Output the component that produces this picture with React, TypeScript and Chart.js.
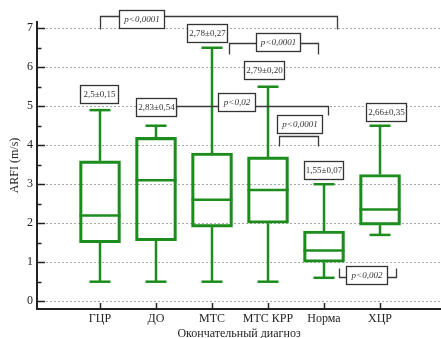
import React, { useEffect, useRef } from "react";
import { Chart, registerables } from "chart.js";

Chart.register(...registerables);

// ---- data ----
const categories = ["ГЦР", "ДО", "МТС", "МТС КРР", "Норма", "ХЦР"];
const whiskerMin = [0.5, 0.5, 0.5, 0.5, 0.6, 1.7];
const q1 = [1.5, 1.55, 1.9, 2.0, 1.0, 1.95];
const medians = [2.2, 3.1, 2.6, 2.85, 1.3, 2.35];
const q3 = [3.6, 4.2, 3.8, 3.7, 1.8, 3.25];
const whiskerMax = [4.9, 4.5, 6.5, 5.5, 3.0, 4.5];
const meanLabels = ["2,5±0,15", "2,83±0,54", "2,78±0,27", "2,79±0,20", "1,55±0,07", "2,66±0,35"];
const yTicks = [0, 1, 2, 3, 4, 5, 6, 7];
const pTexts = ["p<0,0001", "p<0,0001", "p<0,02", "p<0,0001", "p<0,002"];

// ---- annotation layout (data coordinates: x = category position, y = value) ----
const meanLabelPos = [
  [0.98, 5.32],
  [2.0, 4.99],
  [2.91, 6.89],
  [3.93, 5.94],
  [4.99, 3.36],
  [6.1, 4.85],
];
const meanLabelW = [38, 40, 40, 40, 39, 40];
const pLabelPos = [
  [1.74, 7.23],
  [4.175, 6.65],
  [3.44, 5.1],
  [4.56, 4.54],
  [5.75, 0.68],
];
const pLabelW = [45, 44, 37, 45, 41];
const brackets = [
  [[1, 6.98], [1, 7.31], [5.23, 7.31], [5.23, 6.98]],
  [[3.3, 6.34], [3.3, 6.62], [4.89, 6.62], [4.89, 6.34]],
  [[2.36, 4.77], [2.36, 5.0], [5.08, 5.0], [5.08, 4.77]],
  [[4.2, 3.98], [4.2, 4.24], [4.89, 4.24], [4.89, 3.98]],
  [[5.385, 0.61], [5.27, 0.61], [5.27, 0.85]],
  [[6.115, 0.61], [6.29, 0.61], [6.29, 0.85]],
];

const GREEN = "#1c8c1c";
const FONT = "'Liberation Serif', 'Times New Roman', serif";
const BOX_W = 41;
const CAP_W = 21;

const boxPlugin = {
  id: "boxParts",
  afterDatasetsDraw(chart: any) {
    const { ctx, scales } = chart;
    const xs = scales.x;
    const ys = scales.y;
    ctx.save();
    ctx.strokeStyle = GREEN;
    ctx.lineWidth = 2.5;
    ctx.lineCap = "butt";
    const seg = (x1: number, y1: number, x2: number, y2: number) => {
      ctx.beginPath();
      ctx.moveTo(x1, y1);
      ctx.lineTo(x2, y2);
      ctx.stroke();
    };
    categories.forEach((_, i) => {
      const cx = xs.getPixelForValue(i + 1);
      const yMax = ys.getPixelForValue(whiskerMax[i]);
      const yMin = ys.getPixelForValue(whiskerMin[i]);
      const yQ3 = ys.getPixelForValue(q3[i]);
      const yQ1 = ys.getPixelForValue(q1[i]);
      const yMed = ys.getPixelForValue(medians[i]);
      seg(cx, yQ3, cx, yMax);
      seg(cx, yQ1, cx, yMin);
      seg(cx - CAP_W / 2, yMax, cx + CAP_W / 2, yMax);
      seg(cx - CAP_W / 2, yMin, cx + CAP_W / 2, yMin);
      seg(cx - BOX_W / 2, yMed, cx + BOX_W / 2, yMed);
    });
    ctx.restore();
  },
};

const tickPlugin = {
  id: "innerTicks",
  afterDraw(chart: any) {
    const { ctx, scales, chartArea } = chart;
    const xs = scales.x;
    const ys = scales.y;
    ctx.save();
    ctx.strokeStyle = "#222";
    ctx.lineWidth = 1.5;
    const left = chartArea.left;
    for (let v = 0; v <= 7; v += 0.5) {
      const py = Math.round(ys.getPixelForValue(v)) + 0.5;
      const len = Number.isInteger(v) ? 8 : 4.5;
      ctx.beginPath();
      ctx.moveTo(left, py);
      ctx.lineTo(left + len, py);
      ctx.stroke();
    }
    const bottom = chartArea.bottom;
    categories.forEach((_, i) => {
      const px = Math.round(xs.getPixelForValue(i + 1)) + 0.5;
      ctx.beginPath();
      ctx.moveTo(px, bottom);
      ctx.lineTo(px, bottom - 6);
      ctx.stroke();
    });
    ctx.restore();
  },
};

const annotationPlugin = {
  id: "annotations",
  afterDraw(chart: any) {
    const { ctx, scales } = chart;
    const xs = scales.x;
    const ys = scales.y;
    ctx.save();
    ctx.strokeStyle = "#3a3a3a";
    ctx.lineWidth = 1.3;
    brackets.forEach((pts) => {
      ctx.beginPath();
      pts.forEach((p, k) => {
        const px = Math.round(xs.getPixelForValue(p[0])) + 0.5;
        const py = Math.round(ys.getPixelForValue(p[1])) + 0.5;
        if (k === 0) ctx.moveTo(px, py);
        else ctx.lineTo(px, py);
      });
      ctx.stroke();
    });
    const drawLabel = (text: string, pos: number[], w: number, italic: boolean) => {
      const cx = xs.getPixelForValue(pos[0]);
      const cy = ys.getPixelForValue(pos[1]);
      const h = 18;
      const x0 = Math.round(cx - w / 2) + 0.5;
      const y0 = Math.round(cy - h / 2) + 0.5;
      ctx.fillStyle = "#ffffff";
      ctx.fillRect(x0, y0, w, h);
      ctx.strokeStyle = "#333";
      ctx.lineWidth = 1.3;
      ctx.strokeRect(x0, y0, w, h);
      ctx.fillStyle = "#333";
      ctx.font = (italic ? "italic " : "") + "9px " + FONT;
      ctx.textAlign = "center";
      ctx.textBaseline = "middle";
      ctx.fillText(text, x0 + w / 2, y0 + h / 2 + 0.5);
    };
    meanLabels.forEach((t, i) => drawLabel(t, meanLabelPos[i], meanLabelW[i], false));
    pTexts.forEach((t, i) => drawLabel(t, pLabelPos[i], pLabelW[i], true));
    ctx.restore();
  },
};

export default function App() {
  const ref = useRef<HTMLCanvasElement | null>(null);
  useEffect(() => {
    if (!ref.current) return;
    const chart = new Chart(ref.current, {
      type: "bar",
      data: {
        datasets: [
          {
            data: categories.map((_, i) => ({ x: i + 1, y: [q1[i], q3[i]] })) as any,
            backgroundColor: "rgba(255,255,255,0)",
            borderColor: GREEN,
            borderWidth: 2.5,
            borderSkipped: false,
            barThickness: BOX_W,
          },
        ],
      },
      options: {
        animation: false,
        responsive: false,
        devicePixelRatio: 1,
        layout: { padding: { top: 22, right: 0, left: 0, bottom: 0 } },
        plugins: { legend: { display: false }, tooltip: { enabled: false } },
        scales: {
          x: {
            type: "linear",
            offset: false,
            min: -0.125,
            max: 7.089,
            afterFit: (s: any) => {
              s.height = 29;
            },
            afterBuildTicks: (s: any) => {
              s.ticks = categories.map((_, i) => ({ value: i + 1 }));
            },
            grid: { display: false, drawTicks: false, offset: false },
            border: { display: true, color: "#222", width: 2 },
            ticks: {
              autoSkip: false,
              maxRotation: 0,
              padding: 3,
              color: "#222",
              font: { family: FONT, size: 12 },
              callback: (v: any) => categories[Math.round(Number(v)) - 1] ?? "",
            },
            title: {
              display: true,
              text: "Окончательный диагноз",
              color: "#222",
              font: { family: FONT, size: 12, lineHeight: 1 },
              padding: { top: 0, bottom: -2 },
            },
          },
          y: {
            type: "linear",
            min: -0.2,
            max: 7.16,
            afterFit: (s: any) => {
              s.width = 37;
            },
            afterBuildTicks: (s: any) => {
              s.ticks = yTicks.map((v) => ({ value: v }));
            },
            grid: { display: true, drawTicks: false, color: "#a8a8a8", lineWidth: 1 },
            border: { display: true, color: "#222", width: 2, dash: [2, 2] },
            ticks: {
              padding: 4,
              color: "#222",
              font: { family: FONT, size: 12 },
            },
            title: {
              display: true,
              text: "ARFI (m/s)",
              color: "#222",
              font: { family: FONT, size: 12, lineHeight: 1 },
              padding: { top: 9, bottom: 0 },
            },
          },
        },
      },
      plugins: [boxPlugin, tickPlugin, annotationPlugin],
    });
    return () => chart.destroy();
  }, []);
  return (
    <div style={{ position: "absolute", left: 0, top: 0, width: 441, height: 338, background: "#fff" }}>
      <canvas ref={ref} width={441} height={338} />
    </div>
  );
}
